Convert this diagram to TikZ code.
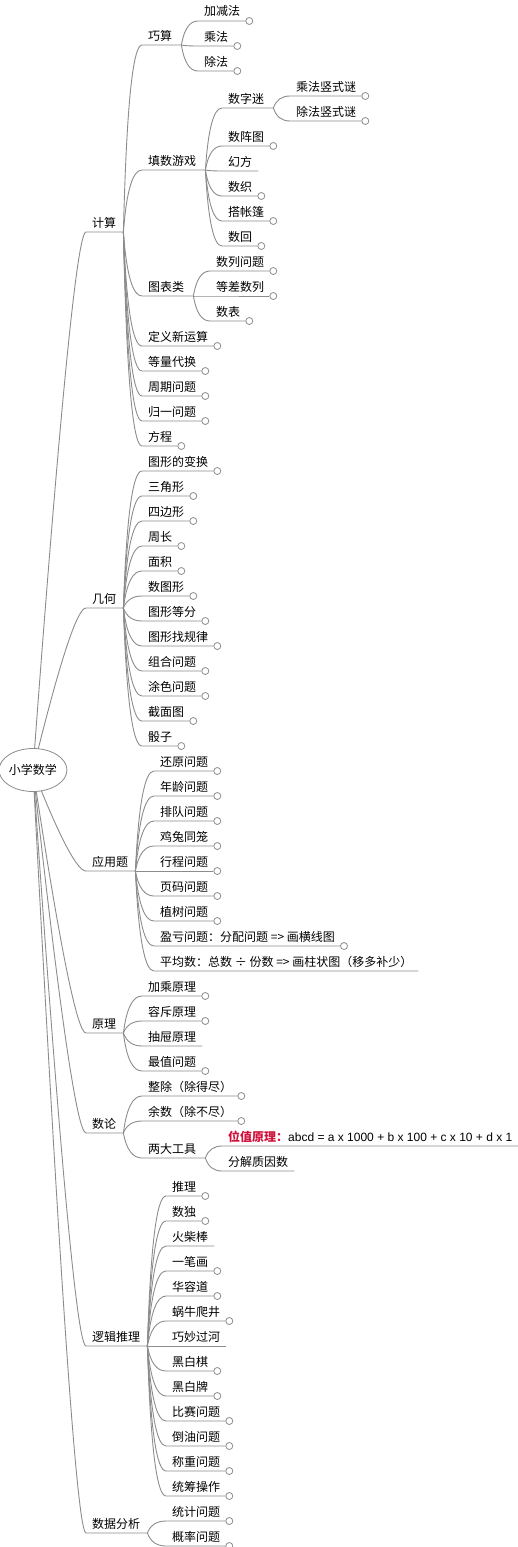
\documentclass[tikz,border=0pt]{standalone}
\usepackage{fontspec}
\setmainfont{Noto Sans CJK SC}
\newfontfamily\latinfont{Liberation Sans}
\usetikzlibrary{calc,shapes.geometric}
\definecolor{mmline}{HTML}{8C8C8C}
\definecolor{mmred}{HTML}{D0103A}
\tikzset{
  topic/.style={anchor=base west, inner sep=0pt, font=\fontsize{12}{14}\selectfont, text=black},
  branch/.style={draw=mmline, line width=0.9pt},
  knob/.style={circle, draw=mmline, fill=white, line width=0.8pt, minimum size=7pt, inner sep=0pt, anchor=west},
  rootbox/.style={ellipse, draw=mmline, fill=white, line width=0.8pt, minimum width=66pt, minimum height=43pt, inner sep=0pt, font=\fontsize{12}{14}\selectfont}
}
% #1 name, #2 parent, #3 text x, #4 underline y, #5 bend, #6 gap after text, #7 text
\newcommand\mmtopic[7]{%
  \node[topic] (#1) at (#3,#4-5) {#7};
  \coordinate (#1-in) at (#3-6,#4);
  \path let \p1=(#1.base east), \p2=(#1-in) in coordinate (#1-out) at (\x1+#6pt,\y2);
  \draw[branch] let \p1=(#2-out), \p2=(#1-in) in
    (\p1) .. controls ({\x1+2/3*#5*(\x2-\x1)},{\y1+2/3*(\y2-\y1)})
              and ({\x2-2/3*(1-#5)*(\x2-\x1)},\y2) .. (\p2) -- (#1-out);
}
\newcommand\mmmain[4]{\mmtopic{#1}{#2}{92}{#3}{0.75}{7}{#4}}
\newcommand\mmsub[5]{\mmtopic{#1}{#2}{#3}{#4}{0.25}{9}{#5}}
\newcommand\mmbare[5]{\mmtopic{#1}{#2}{#3}{#4}{0.25}{6}{#5}}
\newcommand\mmleaf[5]{%
  \mmtopic{#1}{#2}{#3}{#4}{0.25}{5}{#5}
  \node[knob] (#1-k) at (#1-out) {};
}
\begin{document}
\begin{tikzpicture}[x=1pt,y=-1pt]
\useasboundingbox (0,0) rectangle (518,1547);
\coordinate (r-out) at (33,770);

% main branches
\mmmain{js}{r}{232}{计算}
\mmmain{jh}{r}{608}{几何}
\mmmain{yy}{r}{871}{应用题}
\mmmain{yl}{r}{1033}{原理}
\mmmain{sl}{r}{1133}{数论}
\mmmain{lj}{r}{1346}{逻辑推理}
\mmmain{sj}{r}{1533}{数据分析}

% 计算
\mmsub{qs}{js}{148}{45}{巧算}
\mmsub{ts}{js}{148}{170}{填数游戏}
\mmsub{tb}{js}{148}{296}{图表类}
\mmleaf{dy}{js}{148}{346}{定义新运算}
\mmleaf{dl}{js}{148}{371}{等量代换}
\mmleaf{zq}{js}{148}{396}{周期问题}
\mmleaf{gy}{js}{148}{421}{归一问题}
\mmleaf{fc}{js}{148}{446}{方程}

\mmleaf{jj}{qs}{204}{21}{加减法}
\mmleaf{cf}{qs}{204}{46}{乘法}
\mmleaf{cu}{qs}{204}{71}{除法}

\mmsub{sz}{ts}{228}{108}{数字迷}
\mmleaf{sz2}{ts}{228}{146}{数阵图}
\mmbare{hf}{ts}{228}{171}{幻方}
\mmleaf{sx}{ts}{228}{196}{数织}
\mmleaf{dz}{ts}{228}{221}{搭帐篷}
\mmleaf{sh}{ts}{228}{246}{数回}

\mmleaf{cfs}{sz}{296}{96}{乘法竖式谜}
\mmleaf{cus}{sz}{296}{121}{除法竖式谜}

\mmleaf{sli}{tb}{216}{271}{数列问题}
\mmleaf{dc}{tb}{216}{296}{等差数列}
\mmleaf{sb}{tb}{216}{321}{数表}

% 几何
\mmleaf{g1}{jh}{148}{471}{图形的变换}
\mmleaf{g2}{jh}{148}{496}{三角形}
\mmleaf{g3}{jh}{148}{521}{四边形}
\mmleaf{g4}{jh}{148}{546}{周长}
\mmleaf{g5}{jh}{148}{571}{面积}
\mmleaf{g6}{jh}{148}{596}{数图形}
\mmleaf{g7}{jh}{148}{621}{图形等分}
\mmleaf{g8}{jh}{148}{646}{图形找规律}
\mmleaf{g9}{jh}{148}{671}{组合问题}
\mmleaf{g10}{jh}{148}{696}{涂色问题}
\mmleaf{g11}{jh}{148}{721}{截面图}
\mmleaf{g12}{jh}{148}{746}{骰子}

% 应用题
\mmleaf{a1}{yy}{160}{771}{还原问题}
\mmleaf{a2}{yy}{160}{796}{年龄问题}
\mmleaf{a3}{yy}{160}{821}{排队问题}
\mmleaf{a4}{yy}{160}{846}{鸡兔同笼}
\mmleaf{a5}{yy}{160}{871}{行程问题}
\mmleaf{a6}{yy}{160}{896}{页码问题}
\mmleaf{a7}{yy}{160}{921}{植树问题}
\mmleaf{a8}{yy}{160}{946}{盈亏问题：分配问题 => 画横线图}
\mmbare{a9}{yy}{160}{971}{平均数：总数 ÷ 份数 => 画柱状图（移多补少）}

% 原理
\mmleaf{p1}{yl}{148}{996}{加乘原理}
\mmleaf{p2}{yl}{148}{1021}{容斥原理}
\mmbare{p3}{yl}{148}{1046}{抽屉原理}
\mmleaf{p4}{yl}{148}{1071}{最值问题}

% 数论
\mmleaf{n1}{sl}{148}{1096}{整除（除得尽）}
\mmleaf{n2}{sl}{148}{1121}{余数（除不尽）}
\mmsub{lg}{sl}{148}{1158}{两大工具}
\mmbare{wz}{lg}{228}{1146}{{\bfseries\color{mmred}位值原理：}{\latinfont abcd = a x 1000 + b x 100 + c x 10 + d x 1}}
\mmbare{fj}{lg}{228}{1171}{分解质因数}

% 逻辑推理
\mmleaf{l1}{lj}{172}{1196}{推理}
\mmleaf{l2}{lj}{172}{1221}{数独}
\mmbare{l3}{lj}{172}{1246}{火柴棒}
\mmleaf{l4}{lj}{172}{1271}{一笔画}
\mmleaf{l5}{lj}{172}{1296}{华容道}
\mmleaf{l6}{lj}{172}{1321}{蜗牛爬井}
\mmbare{l7}{lj}{172}{1346}{巧妙过河}
\mmleaf{l8}{lj}{172}{1371}{黑白棋}
\mmleaf{l9}{lj}{172}{1396}{黑白牌}
\mmleaf{l10}{lj}{172}{1421}{比赛问题}
\mmleaf{l11}{lj}{172}{1446}{倒油问题}
\mmleaf{l12}{lj}{172}{1471}{称重问题}
\mmleaf{l13}{lj}{172}{1496}{统筹操作}

% 数据分析
\mmleaf{d1}{sj}{172}{1521}{统计问题}
\mmleaf{d2}{sj}{172}{1546}{概率问题}

% root sits on top of the branch origins
\node[rootbox] (r) at (r-out) {小学数学};
\end{tikzpicture}
\end{document}
